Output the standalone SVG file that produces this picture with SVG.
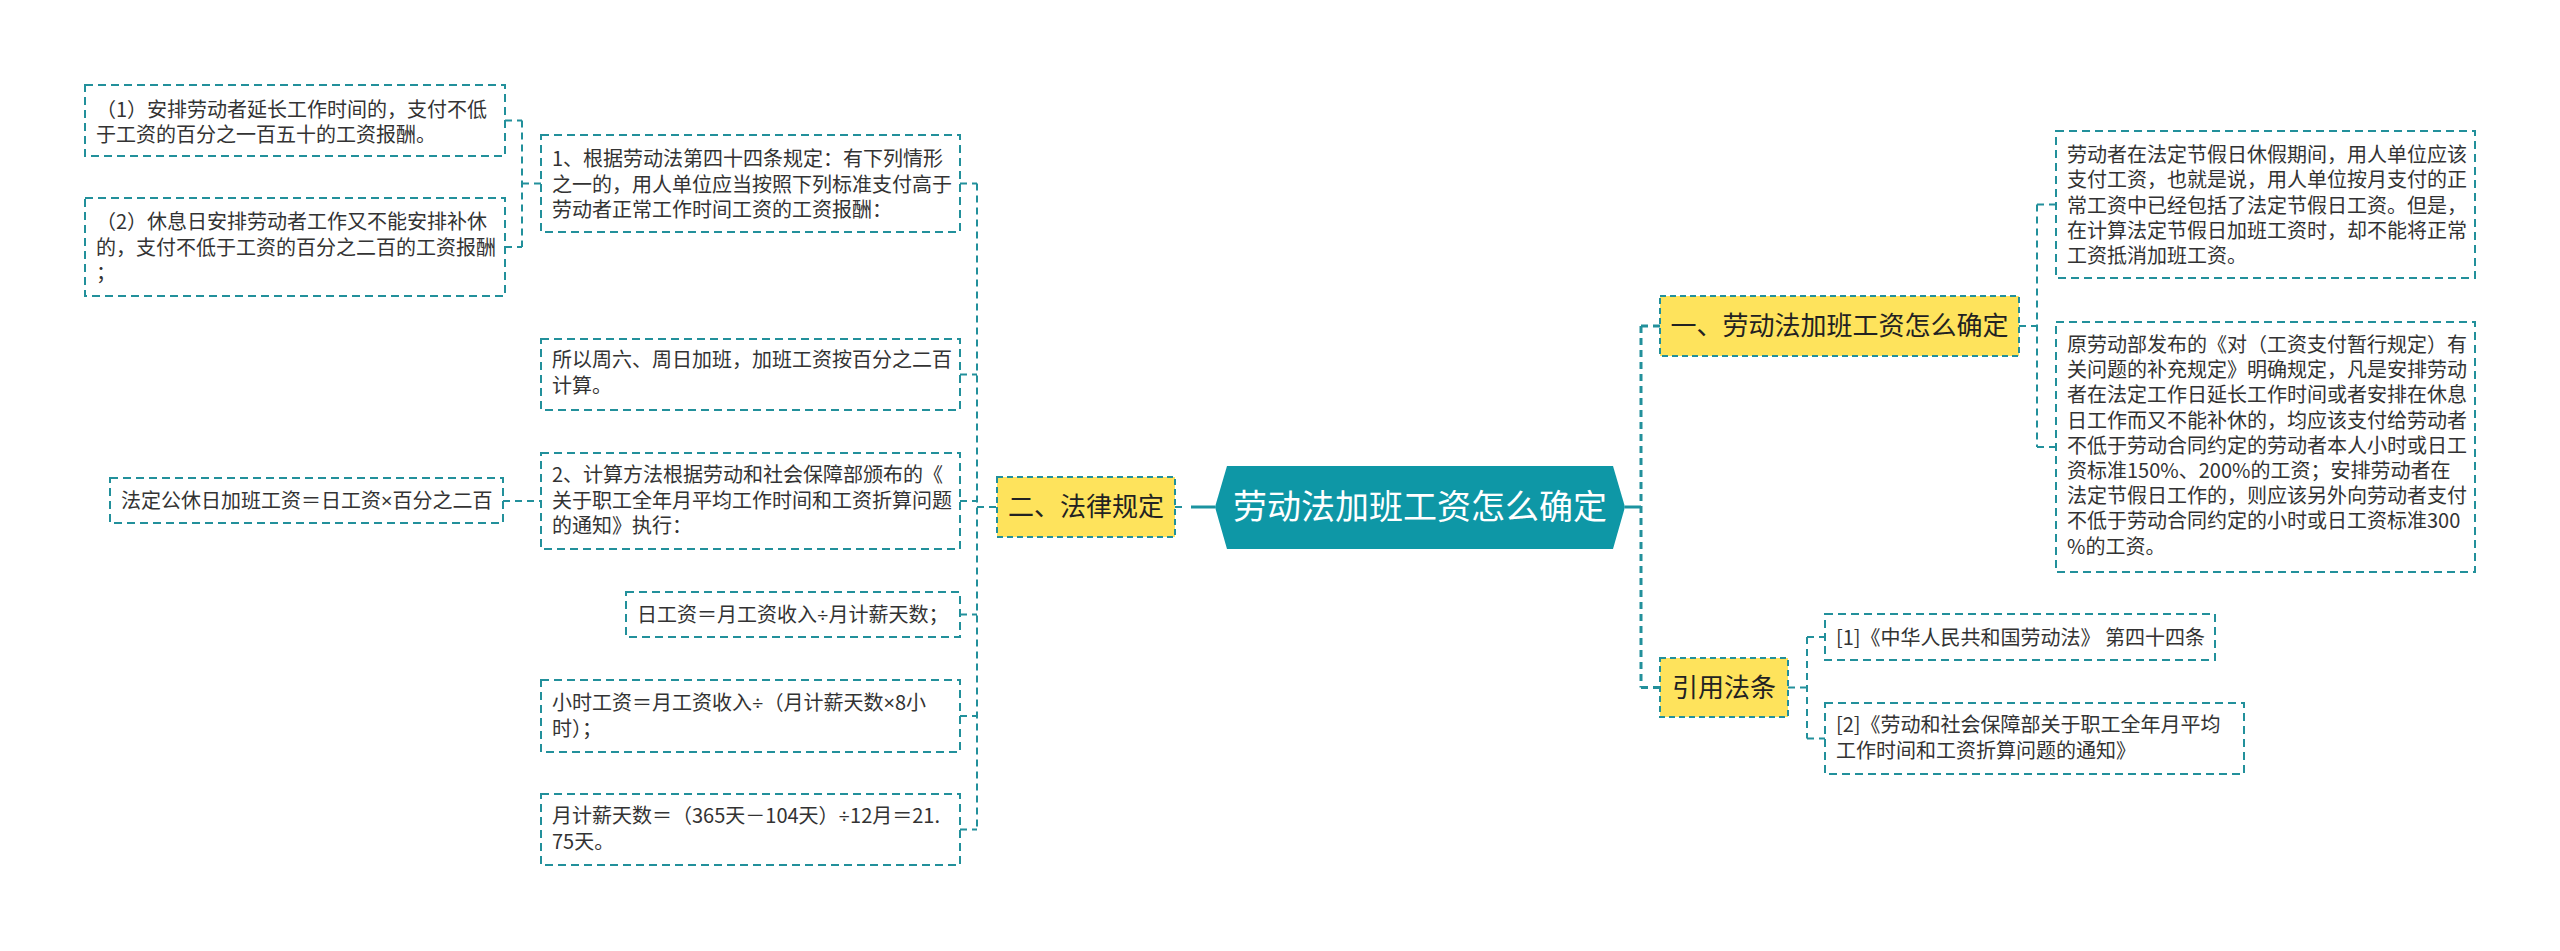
<svg xmlns="http://www.w3.org/2000/svg" width="2560" height="951" viewBox="0 0 2560 951">
<style>
.leaf{fill:#ffffff;stroke:#22909b;stroke-width:2;stroke-dasharray:8 5}
.yel{fill:#fee35c;stroke:#22909b;stroke-width:2;stroke-dasharray:6 4}
.conn{fill:none;stroke:#22909b;stroke-width:2;stroke-dasharray:7 5}
.main{fill:none;stroke:#1b93a0;stroke-width:3}
.t{font-family:'Noto Sans CJK SC','Noto Sans',sans-serif;font-size:20px;fill:#333333}
.s{font-family:'Noto Sans','Liberation Sans',sans-serif}
.y{font-family:'Noto Sans CJK SC','Noto Sans',sans-serif;font-size:26px;fill:#222222;text-anchor:middle}
.c{font-family:'Noto Sans CJK SC','Noto Sans',sans-serif;font-size:34px;fill:#ffffff;text-anchor:middle}
</style>
<rect width="2560" height="951" fill="#ffffff"/>
<g id="connectors">
<path class="conn" d="M505,120.5 H522 M505,247 H522 M522,120.5 V247 M522,183.5 H541"/>
<path class="conn" d="M503,501 H541"/>
<path class="conn" d="M960,183.5 H977 M960,374.5 H977 M960,501 H977 M960,614.5 H977 M960,716 H977 M960,829.5 H977 M977,183.5 V829.5 M977,507 H997"/>
<path class="conn" d="M1175,507 H1186"/>
<path class="main" d="M1191,507 H1215"/>
<path class="main" d="M1625,507 H1641"/>
<path class="conn" style="stroke-width:3" d="M1641,326 V687.5 M1641,326 H1660 M1641,687.5 H1660"/>
<path class="conn" d="M2019,326 H2037 M2037,204.5 V447 M2037,204.5 H2056 M2037,447 H2056"/>
<path class="conn" d="M1788,687.5 H1807 M1807,637 V738.5 M1807,637 H1825 M1807,738.5 H1825"/>
</g>
<g id="center">
<polygon points="1215,507 1227,466 1613,466 1625,507 1613,549 1227,549" fill="#0e97a6"/>
<text class="c" x="1420" y="519">劳动法加班工资怎么确定</text>
</g>
<g id="n-fagui">
<rect class="yel" x="997" y="477" width="178" height="60"/>
<text class="y" x="1086" y="516">二、法律规定</text>
</g>
<g id="n-queding">
<rect class="yel" x="1660" y="296" width="359" height="60"/>
<text class="y" x="1839.5" y="335">一、劳动法加班工资怎么确定</text>
</g>
<g id="n-yinyong">
<rect class="yel" x="1660" y="658" width="128" height="59"/>
<text class="y" x="1724" y="697">引用法条</text>
</g>
<g id="n-a">
<rect class="leaf" x="85" y="85" width="420" height="71"/>
<text class="t"><tspan x="96" y="116.5">（1）安排劳动者延长工作时间的，支付不低</tspan><tspan x="96" y="142">于工资的百分之一百五十的工资报酬。</tspan></text>
</g>
<g id="n-b">
<rect class="leaf" x="85" y="198" width="420" height="98"/>
<text class="t"><tspan x="96" y="229">（2）休息日安排劳动者工作又不能安排补休</tspan><tspan x="96" y="254.5">的，支付不低于工资的百分之二百的工资报酬</tspan><tspan x="96" y="280">；</tspan></text>
</g>
<g id="n-c">
<rect class="leaf" x="541" y="135" width="419" height="97"/>
<text class="t"><tspan x="552" y="166">1、根据劳动法第四十四条规定：有下列情形</tspan><tspan x="552" y="191.5">之一的，用人单位应当按照下列标准支付高于</tspan><tspan x="552" y="217">劳动者正常工作时间工资的工资报酬：</tspan></text>
</g>
<g id="n-d">
<rect class="leaf" x="541" y="339" width="419" height="71"/>
<text class="t"><tspan x="552" y="367">所以周六、周日加班，加班工资按百分之二百</tspan><tspan x="552" y="392.5">计算。</tspan></text>
</g>
<g id="n-e">
<rect class="leaf" x="541" y="453" width="419" height="96"/>
<text class="t"><tspan x="552" y="482">2、计算方法根据劳动和社会保障部颁布的《</tspan><tspan x="552" y="507.5">关于职工全年月平均工作时间和工资折算问题</tspan><tspan x="552" y="533">的通知》执行：</tspan></text>
</g>
<g id="n-f">
<rect class="leaf" x="110" y="478" width="393" height="45"/>
<text class="t" x="121" y="508">法定公休日加班工资＝日工资<tspan class="s">×</tspan>百分之二百</text>
</g>
<g id="n-g">
<rect class="leaf" x="626" y="592" width="334" height="45"/>
<text class="t" x="637" y="622">日工资＝月工资收入<tspan class="s">÷</tspan>月计薪天数；</text>
</g>
<g id="n-h">
<rect class="leaf" x="541" y="680" width="419" height="72"/>
<text class="t"><tspan x="552" y="710">小时工资＝月工资收入<tspan class="s">÷</tspan>（月计薪天数<tspan class="s">×</tspan>8小</tspan><tspan x="552" y="735.5">时）；</tspan></text>
</g>
<g id="n-i">
<rect class="leaf" x="541" y="794" width="419" height="71"/>
<text class="t"><tspan x="552" y="823">月计薪天数＝（365天－104天）<tspan class="s">÷</tspan>12月＝21.</tspan><tspan x="552" y="848.5">75天。</tspan></text>
</g>
<g id="n-j">
<rect class="leaf" x="2056" y="131" width="419" height="147"/>
<text class="t"><tspan x="2067" y="162">劳动者在法定节假日休假期间，用人单位应该</tspan><tspan x="2067" y="187.3">支付工资，也就是说，用人单位按月支付的正</tspan><tspan x="2067" y="212.6">常工资中已经包括了法定节假日工资。但是，</tspan><tspan x="2067" y="237.9">在计算法定节假日加班工资时，却不能将正常</tspan><tspan x="2067" y="263.2">工资抵消加班工资。</tspan></text>
</g>
<g id="n-k">
<rect class="leaf" x="2056" y="322" width="419" height="250"/>
<text class="t"><tspan x="2067" y="352">原劳动部发布的《对（工资支付暂行规定）有</tspan><tspan x="2067" y="377.2">关问题的补充规定》明确规定，凡是安排劳动</tspan><tspan x="2067" y="402.4">者在法定工作日延长工作时间或者安排在休息</tspan><tspan x="2067" y="427.6">日工作而又不能补休的，均应该支付给劳动者</tspan><tspan x="2067" y="452.8">不低于劳动合同约定的劳动者本人小时或日工</tspan><tspan x="2067" y="478">资标准150%、200%的工资；安排劳动者在</tspan><tspan x="2067" y="503.2">法定节假日工作的，则应该另外向劳动者支付</tspan><tspan x="2067" y="528.4">不低于劳动合同约定的小时或日工资标准300</tspan><tspan x="2067" y="553.6">%的工资。</tspan></text>
</g>
<g id="n-l">
<rect class="leaf" x="1825" y="614" width="390" height="46"/>
<text class="t" x="1836" y="645">[1]《中华人民共和国劳动法》 第四十四条</text>
</g>
<g id="n-m">
<rect class="leaf" x="1825" y="703" width="419" height="71"/>
<text class="t"><tspan x="1836" y="732">[2]《劳动和社会保障部关于职工全年月平均</tspan><tspan x="1836" y="757.5">工作时间和工资折算问题的通知》</tspan></text>
</g>
</svg>
